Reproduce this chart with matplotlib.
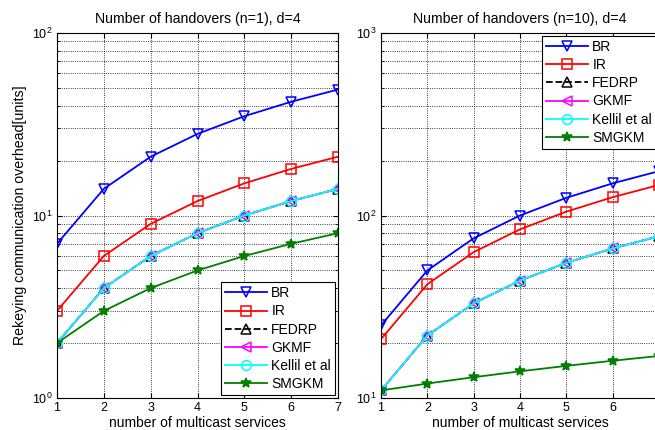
import matplotlib
matplotlib.use("Agg")
import matplotlib.pyplot as plt
from matplotlib.ticker import LogLocator, NullFormatter

plt.rcParams["font.family"] = ["Liberation Sans", "DejaVu Sans"]
plt.rcParams["mathtext.fontset"] = "custom"
plt.rcParams["mathtext.rm"] = "Liberation Sans"
plt.rcParams["mathtext.it"] = "Liberation Sans"

# Dados
servicos = [1, 2, 3, 4, 5, 6, 7]

# n=1
br_n1 = [7, 14, 21, 28, 35, 42, 49]
ir_n1 = [3, 6, 9, 12, 15, 18, 21]
fedrp_n1 = [2, 4, 6, 8, 10, 12, 14]
gkmf_n1 = [2, 4, 6, 8, 10, 12, 14]
kellil_n1 = [2, 4, 6, 8, 10, 12, 14]
smgkm_n1 = [2, 3, 4, 5, 6, 7, 8]

# n=10
br_n10 = [25, 50, 75, 100, 125, 150, 175]
ir_n10 = [21, 42, 63, 84, 105, 126, 147]
fedrp_n10 = [11, 22, 33, 44, 55, 66, 77]
gkmf_n10 = [11, 22, 33, 44, 55, 66, 77]
kellil_n10 = [11, 22, 33, 44, 55, 66, 77]
smgkm_n10 = [11, 12, 13, 14, 15, 16, 17]

nomes = ["BR", "IR", "FEDRP", "GKMF", "Kellil et al", "SMGKM"]
estilos = [
    dict(color="#0000ff", marker="v", ls="-", mfc="none"),
    dict(color="#ff0000", marker="s", ls="-", mfc="none"),
    dict(color="black", marker="^", ls="--", mfc="none"),
    dict(color="#ff00ff", marker="<", ls="-", mfc="none"),
    dict(color="#00ffff", marker="o", ls="-", mfc="none"),
    dict(color="#007f00", marker="*", ls="-", mfc="#007f00"),
]

fig = plt.figure(figsize=(6.55, 4.3), dpi=100)
ax1 = fig.add_axes([57 / 655, 1 - 398 / 430, 281 / 655, 365 / 430])
ax2 = fig.add_axes([381 / 655, 1 - 398 / 430, 278 / 655, 365 / 430])


def desenhar(ax, series, ylim, titulo, loc_legenda):
    for y, nome, st in zip(series, nomes, estilos):
        ax.plot(servicos, y, label=nome, lw=1.3, ms=7, mew=1.1, **st)
    ax.set_yscale("log")
    ax.set_ylim(ylim)
    ax.set_xlim(1, 7)
    ax.set_xticks(servicos)
    ax.yaxis.set_major_locator(LogLocator(base=10))
    ax.yaxis.set_minor_locator(LogLocator(base=10, subs=range(2, 10)))
    ax.yaxis.set_minor_formatter(NullFormatter())
    ax.grid(True, which="major", ls=":", color="black", lw=0.6)
    ax.grid(True, which="minor", axis="y", ls=":", color="black", lw=0.6)
    ax.tick_params(direction="in", which="both", top=True, right=True, labelsize=9, pad=3)
    ax.set_title(titulo, fontsize=10.2, pad=7)
    ax.set_xlabel("number of multicast services", fontsize=10, labelpad=1)
    leg = ax.legend(loc=loc_legenda, fontsize=10, handlelength=3, labelspacing=0.3,
                    borderaxespad=0.2, fancybox=False, framealpha=1, edgecolor="black",
                    handletextpad=0.3, borderpad=0.3)
    leg.get_frame().set_linewidth(0.8)


desenhar(ax1, [br_n1, ir_n1, fedrp_n1, gkmf_n1, kellil_n1, smgkm_n1], (1, 100),
         "Number of handovers (n=1), d=4", "lower right")
ax1.set_ylabel("Rekeying communication overhead[units]", fontsize=10.2)

desenhar(ax2, [br_n10, ir_n10, fedrp_n10, gkmf_n10, kellil_n10, smgkm_n10], (10, 1000),
         "Number of handovers (n=10), d=4", "upper right")
# o 7 fica fora da imagem no original
ax2.set_xticklabels(["1", "2", "3", "4", "5", "6", ""])

fig.savefig("out.png", dpi=100)
